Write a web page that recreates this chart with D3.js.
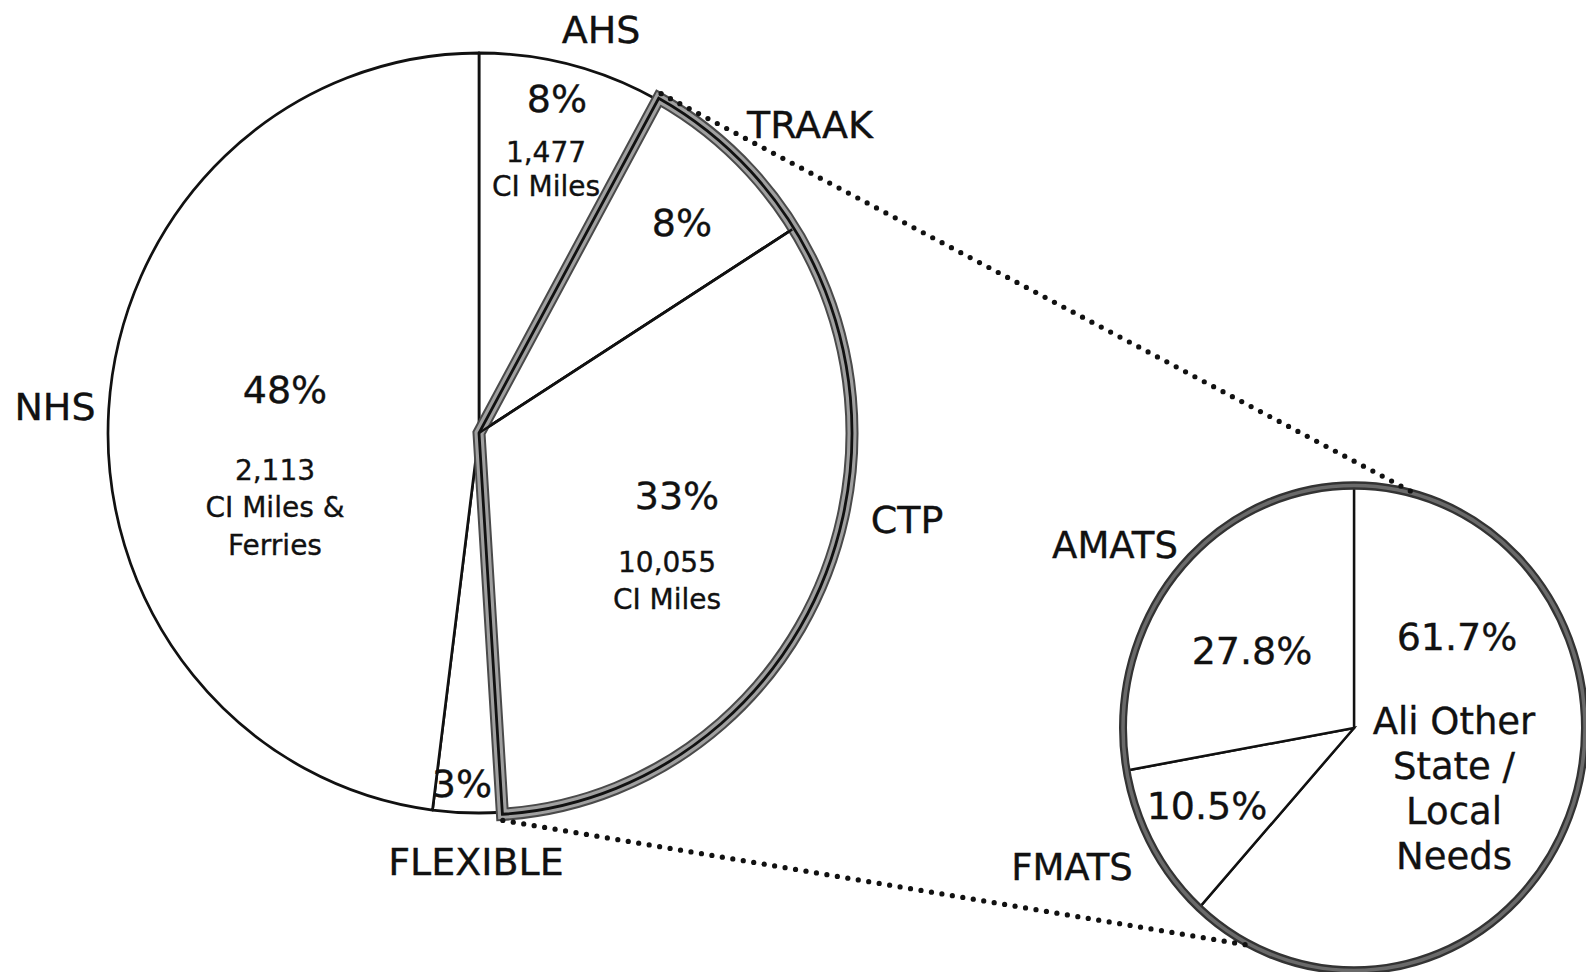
<!DOCTYPE html>
<html>
<head>
<meta charset="utf-8">
<script src="https://cdn.jsdelivr.net/npm/d3@7"></script>
<style>
  html, body { margin: 0; padding: 0; background: #ffffff; }
  svg { display: block; }
  text { font-family: "DejaVu Sans", Verdana, sans-serif; fill: #111; stroke: #111; stroke-width: 0.35px; }
</style>
</head>
<body>
<svg id="chart" width="1586" height="972"></svg>
<script>
// ---------------- DATA ----------------
const mainCategories = ["AHS", "TRAAK", "CTP", "FLEXIBLE", "NHS"];
const mainShares     = [8, 8, 33, 3, 48];
const mainPctLabels  = ["8%", "8%", "33%", "3%", "48%"];
const mainDetails    = [["1,477", "CI Miles"], [], ["10,055", "CI Miles"], [], ["2,113", "CI Miles &", "Ferries"]];
const explodedCategories = ["TRAAK", "CTP"];   // slices broken out into the second pie

const subCategories  = ["All Other State / Local Needs", "FMATS", "AMATS"];
const subShares      = [61.7, 10.5, 27.8];
const subPctLabels   = ["61.7%", "10.5%", "27.8%"];
const subNames       = ["", "FMATS", "AMATS"];
const subDetails     = [["Ali Other", "State /", "Local", "Needs"], [], []];

// ---------------- LAYOUT ----------------
const mainPie = { cx: 479, cy: 433, rx: 371, ry: 380 };
const subPie  = { cx: 1354, cy: 728, rx: 231, ry: 242.5 };

const mainNamePos = { AHS: [601, 30], TRAAK: [810, 125], CTP: [907, 520], FLEXIBLE: [476, 862], NHS: [55, 407] };
const mainPctPos  = [[557, 99], [682, 223], [677, 496], [462, 784], [285, 390]];
const mainDetailPos = [[546, 152], null, [667, 562], null, [275, 470]];
const mainDetailStep = [34, 0, 37, 0, 37.5];
const subNamePos  = [null, [1072, 867], [1115, 545]];
const subPctPos   = [[1457, 637], [1207, 806], [1252, 651]];
const subDetailPos = [[1454, 721], null, null];
const subDetailStep = [45.3, 0, 0];
const subConnectAngles = [16, 206];   // degrees on sub pie where dotted lines land

const svg = d3.select("#chart");
const deg = Math.PI / 180;

const pie = d3.pie().sort(null).value(d => d).startAngle(0).endAngle(2 * Math.PI);

// ---------- main pie ----------
const mainArcs = pie(mainShares);
const mainArc = d3.arc().innerRadius(0).outerRadius(mainPie.rx);
const gMain = svg.append("g")
  .attr("transform", `translate(${mainPie.cx},${mainPie.cy}) scale(1,${mainPie.ry / mainPie.rx})`);

gMain.selectAll("path.slice")
  .data(mainArcs)
  .join("path")
  .attr("class", "slice")
  .attr("d", mainArc)
  .attr("fill", "#fff")
  .attr("stroke", "#111")
  .attr("stroke-width", 2.7)
  .attr("stroke-linejoin", "round");

// highlighted (exploded) wedge band
const exIdx = explodedCategories.map(c => mainCategories.indexOf(c));
const exStart = mainArcs[exIdx[0]].startAngle;
const exEnd = mainArcs[exIdx[exIdx.length - 1]].endAngle;
const bandArc = d3.arc().innerRadius(0).outerRadius(mainPie.rx + 2);
const bandD = bandArc({ startAngle: exStart, endAngle: exEnd });
[["#4a4a4a", 13], ["#a0a0a0", 9], ["#111", 2.8]].forEach(([c, w]) => {
  gMain.append("path")
    .attr("d", bandD)
    .attr("fill", "none")
    .attr("stroke", c)
    .attr("stroke-width", w)
    .attr("stroke-linejoin", "miter");
});
exIdx.slice(1).forEach(i => {
  const a = mainArcs[i].startAngle;
  gMain.append("line")
    .attr("x1", 0).attr("y1", 0)
    .attr("x2", mainPie.rx * Math.sin(a)).attr("y2", -mainPie.rx * Math.cos(a))
    .attr("stroke", "#111").attr("stroke-width", 2.4);
});

// ---------- sub pie ----------
const subArcs = pie(subShares);
const subArc = d3.arc().innerRadius(0).outerRadius(subPie.rx);
const gSub = svg.append("g")
  .attr("transform", `translate(${subPie.cx},${subPie.cy}) scale(1,${subPie.ry / subPie.rx})`);
gSub.selectAll("path.slice")
  .data(subArcs)
  .join("path")
  .attr("class", "slice")
  .attr("d", subArc)
  .attr("fill", "#fff")
  .attr("stroke", "#111")
  .attr("stroke-width", 2.4);
[["#333", 8], ["#6a6a6a", 3.5]].forEach(([c, w]) => {
  gSub.append("circle")
    .attr("r", subPie.rx)
    .attr("fill", "none")
    .attr("stroke", c)
    .attr("stroke-width", w);
});

// ---------- connectors (dotted) ----------
function onEllipse(p, r, ky, a) {
  return [p.cx + r * Math.sin(a), p.cy - r * ky * Math.cos(a)];
}
const kMain = mainPie.ry / mainPie.rx, kSub = subPie.ry / subPie.rx;
const connectors = [
  [onEllipse(mainPie, mainPie.rx + 7, kMain, exStart), onEllipse(subPie, subPie.rx, kSub, subConnectAngles[0] * deg)],
  [onEllipse(mainPie, mainPie.rx + 8, kMain, exEnd),   onEllipse(subPie, subPie.rx, kSub, subConnectAngles[1] * deg)]
];
const dotGap = 10.6;
const dots = connectors.flatMap(([a, b]) => {
  const len = Math.hypot(b[0] - a[0], b[1] - a[1]);
  const n = Math.floor(len / dotGap);
  return d3.range(n + 1).map(k => {
    const t = (k * dotGap) / len;
    return [a[0] + (b[0] - a[0]) * t, a[1] + (b[1] - a[1]) * t];
  });
});
svg.append("g").selectAll("circle")
  .data(dots)
  .join("circle")
  .attr("cx", d => d[0]).attr("cy", d => d[1])
  .attr("r", 2.6)
  .attr("fill", "#111");

// ---------- labels ----------
const gText = svg.append("g").attr("dominant-baseline", "central").attr("text-anchor", "middle");

mainCategories.forEach((name, i) => {
  const p = mainNamePos[name];
  gText.append("text").attr("x", p[0]).attr("y", p[1]).attr("font-size", 38).text(name);
  gText.append("text").attr("x", mainPctPos[i][0]).attr("y", mainPctPos[i][1]).attr("font-size", 38).text(mainPctLabels[i]);
  mainDetails[i].forEach((line, j) => {
    gText.append("text")
      .attr("x", mainDetailPos[i][0])
      .attr("y", mainDetailPos[i][1] + j * mainDetailStep[i])
      .attr("font-size", 28)
      .text(line);
  });
});

subCategories.forEach((name, i) => {
  if (subNamePos[i]) {
    gText.append("text").attr("x", subNamePos[i][0]).attr("y", subNamePos[i][1]).attr("font-size", 37).text(subNames[i]);
  }
  gText.append("text").attr("x", subPctPos[i][0]).attr("y", subPctPos[i][1]).attr("font-size", 38).text(subPctLabels[i]);
  subDetails[i].forEach((line, j) => {
    gText.append("text")
      .attr("x", subDetailPos[i][0])
      .attr("y", subDetailPos[i][1] + j * subDetailStep[i])
      .attr("font-size", 37)
      .text(line);
  });
});
</script>
</body>
</html>
